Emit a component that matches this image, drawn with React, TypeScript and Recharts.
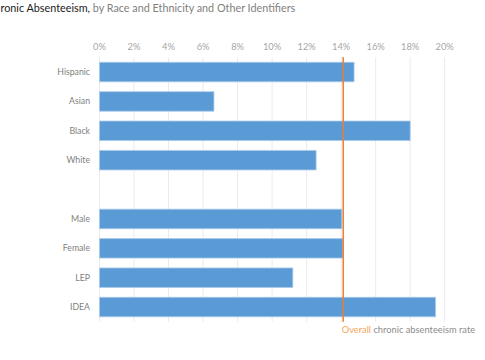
import React from "react";
import { BarChart, Bar, XAxis, YAxis, CartesianGrid, ReferenceLine } from "recharts";

const categories = ["Hispanic", "Asian", "Black", "White", "", "Male", "Female", "LEP", "IDEA"];
const rates: (number | null)[] = [0.1475, 0.0663, 0.18, 0.1255, null, 0.1404, 0.141, 0.112, 0.1947];
const xTicks = [0, 0.02, 0.04, 0.06, 0.08, 0.1, 0.12, 0.14, 0.16, 0.18, 0.2];
const overallRate = 0.1412;

const data = categories.map((name, i) => ({ name, rate: rates[i] }));

const FONT = "Lato, 'Noto Sans', sans-serif";

const OverallLabel = (props: any) => {
  const vb = props.viewBox || {};
  const x = (vb.x ?? 0) - 1.5;
  const y = (vb.y ?? 0) + (vb.height ?? 0) + 9.5;
  return (
    <text x={x} y={y} dominantBaseline="middle" fontSize={9.3} fontFamily={FONT}>
      <tspan fill="#F4A460">Overall</tspan>
      <tspan fill="#8c8c8c"> chronic absenteeism rate</tspan>
    </text>
  );
};

export default function App() {
  return (
    <div style={{ position: "absolute", left: 0, top: 0, width: 485, height: 360, background: "#fff" }}>
      <svg width={485} height={20} style={{ position: "absolute", left: 0, top: 0 }}>
        <text x={0.5} y={9} dominantBaseline="middle" fontSize={10.8} fontFamily={FONT} fill="#1a1a1a">
          ronic Absenteeism,
          <tspan fill="#808080"> by Race and Ethnicity and Other Identifiers</tspan>
        </text>
      </svg>
      <BarChart
        width={485}
        height={360}
        data={data}
        layout="vertical"
        margin={{ top: 27.3, right: 40.3, bottom: 38.3, left: 0 }}
      >
        <CartesianGrid horizontal={false} stroke="#ebebeb" strokeWidth={1} />
        <XAxis
          type="number"
          orientation="top"
          domain={[0, 0.2]}
          ticks={xTicks}
          tickFormatter={(v: number) => `${Math.round(v * 100)}%`}
          axisLine={false}
          tickLine={false}
          tickSize={0}
          tickMargin={7}
          height={30}
          tick={{ fill: "#a6a6a6", fontSize: 9.3, fontFamily: FONT }}
          interval={0}
        />
        <YAxis
          type="category"
          dataKey="name"
          width={99.5}
          axisLine={false}
          tickLine={false}
          tickSize={0}
          tickMargin={9.5}
          interval={0}
          tick={{ fill: "#808080", fontSize: 8.7, fontFamily: FONT }}
        />
        <Bar dataKey="rate" fill="#5B9BD5" stroke="#a8c9ec" strokeWidth={0.8} barSize={19.5} isAnimationActive={false} />
        <ReferenceLine x={overallRate} stroke="#ED7D31" strokeWidth={1.5} label={<OverallLabel />} />
      </BarChart>
    </div>
  );
}
